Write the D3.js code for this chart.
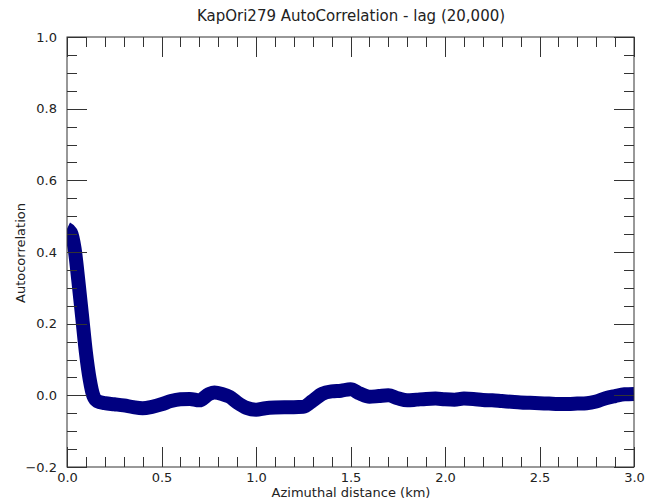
<!DOCTYPE html>
<html>
<head>
<meta charset="utf-8">
<script src="https://cdn.jsdelivr.net/npm/d3@7"></script>
<style>
  html, body { margin: 0; padding: 0; background: #fff; }
  svg { display: block; font-family: "DejaVu Sans", sans-serif; }
</style>
</head>
<body>
<svg id="chart" width="656" height="502"></svg>
<script>
// ---- data ----
const titleText = "KapOri279 AutoCorrelation - lag (20,000)";
const xLabel = "Azimuthal distance (km)";
const yLabel = "Autocorrelation";
const xTickValues = [0, 0.5, 1.0, 1.5, 2.0, 2.5, 3.0];
const yTickValues = [-0.2, 0, 0.2, 0.4, 0.6, 0.8, 1.0];
const distanceKm = [0.00, 0.02, 0.04, 0.06, 0.08, 0.10, 0.12, 0.14, 0.16, 0.20, 0.25, 0.30, 0.35, 0.40, 0.45, 0.50, 0.55, 0.60, 0.65, 0.70, 0.75, 0.78, 0.82, 0.86, 0.90, 0.95, 1.00, 1.05, 1.10, 1.15, 1.20, 1.25, 1.30, 1.35, 1.40, 1.45, 1.50, 1.55, 1.60, 1.65, 1.70, 1.75, 1.80, 1.85, 1.90, 1.95, 2.00, 2.05, 2.10, 2.15, 2.20, 2.25, 2.30, 2.35, 2.40, 2.45, 2.50, 2.55, 2.60, 2.65, 2.70, 2.75, 2.80, 2.85, 2.90, 2.95, 3.00];
const autocorr = [0.465, 0.455, 0.41, 0.32, 0.22, 0.12, 0.045, -0.002, -0.016, -0.022, -0.025, -0.028, -0.033, -0.036, -0.032, -0.025, -0.016, -0.011, -0.010, -0.014, 0.003, 0.008, 0.004, -0.004, -0.020, -0.035, -0.040, -0.036, -0.034, -0.033, -0.033, -0.032, -0.015, 0.004, 0.011, 0.013, 0.017, 0.005, -0.004, -0.002, 0.000, -0.008, -0.014, -0.012, -0.010, -0.009, -0.011, -0.012, -0.009, -0.010, -0.013, -0.014, -0.016, -0.018, -0.020, -0.021, -0.022, -0.023, -0.024, -0.024, -0.023, -0.022, -0.017, -0.008, -0.002, 0.003, 0.004];

// ---- layout ----
const L = 67, R = 634, T = 37, B = 467;
const svg = d3.select("#chart");
const x = d3.scaleLinear().domain([0, 3]).range([L, R]);
const y = d3.scaleLinear().domain([-0.2, 1.0]).range([B, T]);
const axisColor = "#333";
const textColor = "#222";

const points = distanceKm.map((d, i) => [d, autocorr[i]]);

// clip
svg.append("clipPath").attr("id", "clip")
  .append("rect").attr("x", L).attr("y", T).attr("width", R - L).attr("height", B - T);

// data line (thick band)
const line = d3.line().x(d => x(d[0])).y(d => y(d[1])).curve(d3.curveMonotoneX);
svg.append("path")
  .datum(points)
  .attr("clip-path", "url(#clip)")
  .attr("d", line)
  .attr("fill", "none")
  .attr("stroke", "#000080")
  .attr("stroke-width", 14)
  .attr("stroke-linejoin", "round")
  .attr("stroke-linecap", "butt");

// frame
svg.append("rect").attr("x", L).attr("y", T).attr("width", R - L).attr("height", B - T)
  .attr("fill", "none").attr("stroke", axisColor).attr("stroke-width", 1);

const xMinor = d3.range(0, 31).map(i => i / 10);
const yMinor = d3.range(0, 25).map(i => -0.2 + i * 0.05);
const isMajorX = v => Math.abs(v * 2 - Math.round(v * 2)) < 1e-6;
const isMajorY = v => Math.abs(v * 5 - Math.round(v * 5)) < 1e-6;

// bottom axis
const bottom = svg.append("g").attr("transform", `translate(0,${B})`)
  .call(d3.axisBottom(x).tickValues(xTickValues).tickFormat(d3.format(".1f")).tickSize(0).tickPadding(6));
bottom.select(".domain").remove();
bottom.selectAll("text").attr("font-size", 13).attr("fill", textColor).attr("font-family", "DejaVu Sans");

// left axis
const left = svg.append("g").attr("transform", `translate(${L},0)`)
  .call(d3.axisLeft(y).tickValues(yTickValues).tickFormat(d3.format(".1f")).tickSize(0).tickPadding(10));
left.select(".domain").remove();
left.selectAll("text").attr("font-size", 13).attr("fill", textColor).attr("font-family", "DejaVu Sans");

// tick marks (inward on all four sides)
const tg = svg.append("g").attr("stroke", axisColor).attr("stroke-width", 1);
xMinor.forEach(v => {
  const len = isMajorX(v) ? 20 : 10;
  const px = Math.round(x(v)) + 0.5;
  tg.append("line").attr("x1", px).attr("x2", px).attr("y1", B).attr("y2", B - len);
  tg.append("line").attr("x1", px).attr("x2", px).attr("y1", T).attr("y2", T + len);
});
yMinor.forEach(v => {
  const len = isMajorY(v) ? 20 : 10;
  const py = Math.round(y(v)) + 0.5;
  tg.append("line").attr("x1", L).attr("x2", L + len).attr("y1", py).attr("y2", py);
  tg.append("line").attr("x1", R).attr("x2", R - len).attr("y1", py).attr("y2", py);
});

// titles
svg.append("text").attr("x", 351).attr("y", 21).attr("text-anchor", "middle")
  .attr("font-size", 15).attr("fill", textColor).text(titleText);
svg.append("text").attr("x", 351).attr("y", 497).attr("text-anchor", "middle")
  .attr("font-size", 13).attr("fill", textColor).text(xLabel);
svg.append("text").attr("transform", "translate(25,253) rotate(-90)").attr("text-anchor", "middle")
  .attr("font-size", 13).attr("fill", textColor).text(yLabel);
</script>
</body>
</html>
